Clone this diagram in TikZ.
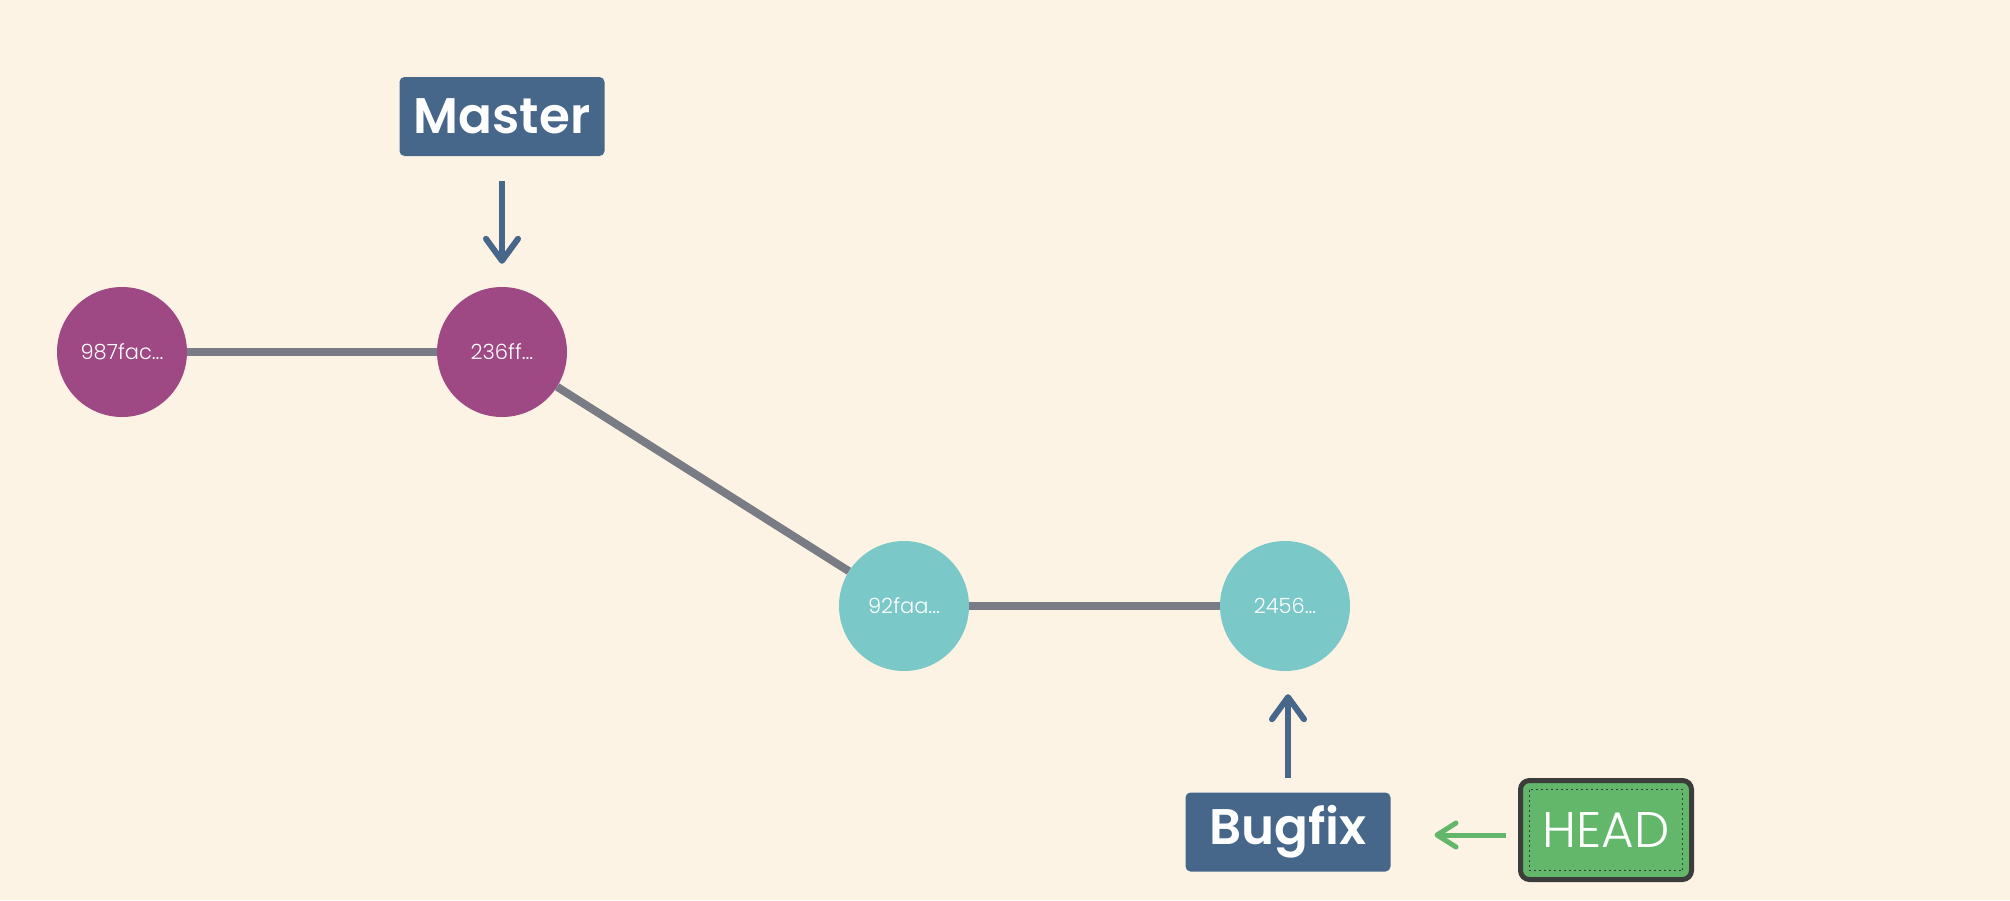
\documentclass[tikz,border=0pt]{standalone}
\usepackage{fontspec}
\setmainfont{Poppins}
\newfontfamily\lightfont{Poppins Light}
\newfontfamily\semifont{Poppins SemiBold}
\usetikzlibrary{arrows.meta}
\definecolor{bg}{HTML}{FCF3E4}
\definecolor{plum}{HTML}{9E4983}
\definecolor{teal2}{HTML}{7BC8C9}
\definecolor{edgegray}{HTML}{7A7C85}
\definecolor{branchblue}{HTML}{46668A}
\definecolor{headgreen}{HTML}{62B76A}
\definecolor{darkrim}{HTML}{3C3C3C}
\tikzset{
  commit/.style={circle, minimum size=130pt, inner sep=0pt, text=white,
    font=\lightfont\fontsize{21}{21}\selectfont},
  oldcommit/.style={commit, fill=plum},
  newcommit/.style={commit, fill=teal2},
  edge/.style={draw=edgegray, line width=8pt},
  branch/.style={rectangle, rounded corners=5pt, fill=branchblue, text=white,
    minimum width=205pt, minimum height=79pt, inner sep=0pt, outer sep=0pt,
    font=\semifont\fontsize{50}{50}\selectfont},
  ptr/.style={draw=branchblue, line width=6pt,
    -{Straight Barb[length=22pt,width=32pt,round]}},
  headptr/.style={draw=headgreen, line width=5pt,
    -{Straight Barb[length=19pt,width=24pt,round]}},
  headbox/.style={rectangle, rounded corners=9pt, fill=headgreen, draw=darkrim,
    line width=5pt, text=white, minimum width=171pt, minimum height=99pt,
    inner sep=0pt, outer sep=0pt, font=\lightfont\fontsize{50}{50}\selectfont}
}
\begin{document}
\begin{tikzpicture}[x=1pt,y=-1pt]
\fill[bg] (0,0) rectangle (2010,900);
\useasboundingbox (0,0) rectangle (2010,900);
% commits
\node[oldcommit] (c1) at (122,352) {987fac...};
\node[oldcommit] (c2) at (502,352) {236ff...};
\node[newcommit] (c3) at (904,606) {92faa...};
\node[newcommit] (c4) at (1285,606) {2456...};
% edges
\draw[edge] (c1) -- (c2);
\draw[edge] (c2) -- (c3);
\draw[edge] (c3) -- (c4);
% branches
\node[branch] (master) at (502,116.5) {Master};
\node[branch] (bugfix) at (1288,832) {Bugfix};
\node[headbox] (head) at (1606,830) {HEAD};
\draw[darkrim, line width=1.4pt, dash pattern=on 2pt off 3pt]
  ([xshift=9pt,yshift=-9pt]head.north west) rectangle ([xshift=-9pt,yshift=9pt]head.south east);
% pointers
\coordinate (mtail) at ([yshift=-25pt]master.south);
\coordinate (mtip) at ([yshift=23pt]c2.north);
\draw[ptr] (mtail) -- (mtip);
\coordinate (btail) at ([yshift=15pt]bugfix.north);
\coordinate (c4s) at ([yshift=-23pt]c4.south);
\coordinate (btip) at (bugfix.north |- c4s);
\draw[ptr] (btail) -- (btip);
\coordinate (htail) at ([xshift=-15pt,yshift=-5pt]head.west);
\coordinate (htip) at ([xshift=44pt,yshift=-3pt]bugfix.east);
\draw[headptr] (htail) -- (htip);
\end{tikzpicture}
\end{document}
